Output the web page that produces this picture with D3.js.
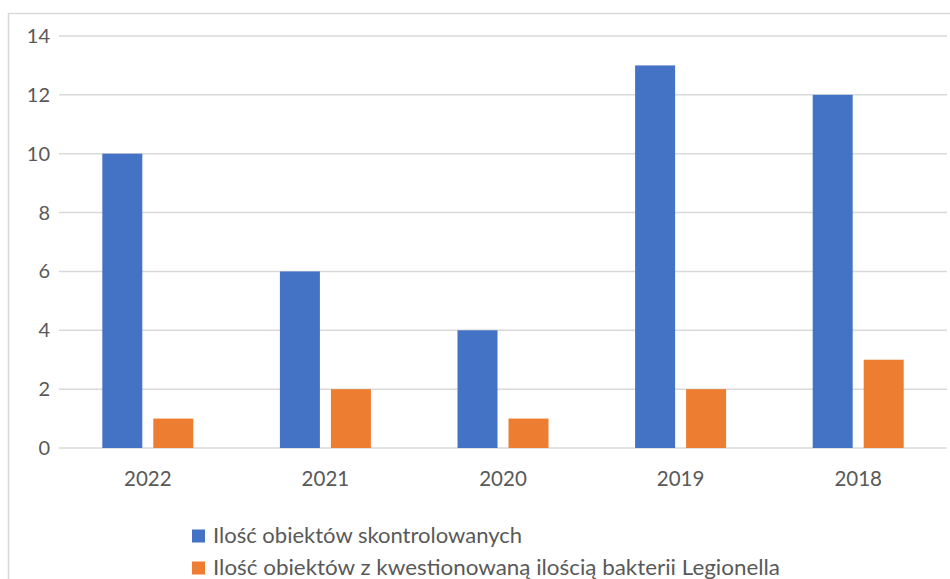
<!DOCTYPE html>
<meta charset="utf-8">
<head>
<style>
  body { margin: 0; background: #fff; }
  text { font-family: Lato, "Open Sans", sans-serif; fill: #595959; }
</style>
</head>
<script src="https://d3js.org/d3.v7.min.js"></script>
<div id="chart"></div>
<script>

var years = ["2022", "2021", "2020", "2019", "2018"];
var skontrolowane = [10, 6, 4, 13, 12];
var legionella = [1, 2, 1, 2, 3];
var yTicks = [0, 2, 4, 6, 8, 10, 12, 14];
var seriesNames = [
  "Ilość obiektów skontrolowanych",
  "Ilość obiektów z kwestionowaną ilością bakterii Legionella"
];
var colors = ["#4472C4", "#ED7D31"];

var W = 950, H = 579;
var svg = d3.select("#chart").append("svg")
    .attr("width", W)
    .attr("height", H);

// chart frame (cut off on the right and bottom)
svg.append("rect")
    .attr("x", 8.5).attr("y", 13.5)
    .attr("width", 1000).attr("height", 1000)
    .attr("fill", "none")
    .attr("stroke", "#d9d9d9")
    .attr("stroke-width", 1.5);

var x = d3.scaleBand()
    .domain(years)
    .range([59, 947]);

var y = d3.scaleLinear()
    .domain([0, 14])
    .range([448, 36]);

// grid
svg.selectAll("line.grid")
  .data(yTicks)
  .enter()
  .append("line")
    .attr("class", "grid")
    .attr("x1", 59).attr("x2", 947)
    .attr("y1", function(d) { return y(d); })
    .attr("y2", function(d) { return y(d); })
    .attr("stroke", "#d9d9d9")
    .attr("stroke-width", 1.5);

// y labels
svg.selectAll("text.ylab")
  .data(yTicks)
  .enter()
  .append("text")
    .attr("class", "ylab")
    .attr("x", 50)
    .attr("y", function(d) { return y(d); })
    .attr("dy", "0.35em")
    .attr("text-anchor", "end")
    .style("font-size", "20px")
    .text(function(d) { return d; });

// x labels
svg.selectAll("text.xlab")
  .data(years)
  .enter()
  .append("text")
    .attr("class", "xlab")
    .attr("x", function(d) { return x(d) + x.bandwidth() / 2; })
    .attr("y", 486)
    .attr("text-anchor", "middle")
    .style("font-size", "20.5px")
    .text(function(d) { return d; });

var barW = 40, gap = 11;
var series = [skontrolowane, legionella];

series.forEach(function(vals, s) {
  svg.selectAll("rect.s" + s)
    .data(vals)
    .enter()
    .append("rect")
      .attr("class", "s" + s)
      .attr("x", function(d, i) {
        var c = x(years[i]) + x.bandwidth() / 2;
        return s === 0 ? c - gap / 2 - barW : c + gap / 2;
      })
      .attr("y", function(d) { return y(d); })
      .attr("width", barW)
      .attr("height", function(d) { return y(0) - y(d); })
      .attr("fill", colors[s]);
});

// legend
var leg = svg.selectAll("g.leg")
  .data(seriesNames)
  .enter()
  .append("g")
    .attr("class", "leg")
    .attr("transform", function(d, i) { return "translate(192," + (535.5 + i * 32) + ")"; });

leg.append("rect")
    .attr("x", 0).attr("y", -6)
    .attr("width", 13).attr("height", 13)
    .attr("fill", function(d, i) { return colors[i]; });

leg.append("text")
    .attr("x", 21)
    .attr("y", 7.5)
    .style("font-size", "21px")
    .attr("textLength", function(d, i) { return i === 0 ? 309 : 567; })
    .attr("lengthAdjust", "spacingAndGlyphs")
    .text(function(d) { return d; });

</script>
